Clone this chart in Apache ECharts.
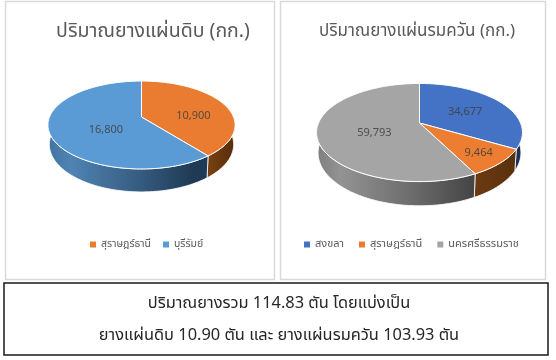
<!DOCTYPE html>
<html><head><meta charset="utf-8">
<style>html,body{margin:0;padding:0;background:#fff}#c{width:556px;height:360px}</style>
<script src="https://cdn.jsdelivr.net/npm/echarts@6/dist/echarts.min.js"></script>
</head><body><div id="c"></div>
<script>
const titleRaw = 'ปริมาณยางแผ่นดิบ (กก.)';
const titleSmoked = 'ปริมาณยางแผ่นรมควัน (กก.)';
const rawNames = ['สุราษฎร์ธานี', 'บุรีรัมย์'];
const rawValues = [10900, 16800];
const smokedNames = ['สงขลา', 'สุราษฎร์ธานี', 'นครศรีธรรมราช'];
const smokedValues = [34677, 9464, 59793];
const summaryLines = ['ปริมาณยางรวม 114.83 ตัน โดยแบ่งเป็น', 'ยางแผ่นดิบ 10.90 ตัน และ ยางแผ่นรมควัน 103.93 ตัน'];

const FONT = '"Noto Sans Thai","Noto Sans","Open Sans",sans-serif';
const rawStyle = {
  cx: 141.5, cy: 117, R: 92, S: 42.5, k: 0.1818, D: 18.8,
  slices: [
    {top:'#E97C30', side:[['0','#7a4213'],['1','#552c0a']], lab:[0.62, 8]},
    {top:'#5B9BD5', side:[['0','#44749f'],['0.15','#4f83b3'],['0.6','#34597c'],['0.9','#1f3a55'],['1','#1f3a55']], lab:[0.4, 8]}
  ]
};
const smokedStyle = {
  cx: 419.5, cy: 123, R: 101, S: 47.2, k: 0.194, D: 19.5,
  slices: [
    {top:'#4472C4', side:[['0','#1e3560'],['1','#182b4e']], lab:[0.55, 2]},
    {top:'#ED7D31', side:[['0','#6d3a12'],['1','#58300c']], lab:[0.76, 2]},
    {top:'#A5A5A5', side:[['0','#7d7d7d'],['0.15','#939393'],['0.6','#6c6c6c'],['1','#434343']], lab:[0.45, 6]}
  ]
};

function proj(st, t, depth, r) {
  const rr = r === undefined ? 1 : r;
  const u = Math.sin(t) * rr, v = Math.cos(t) * rr;
  const w = 1 + st.k * v;
  const shrink = depth ? 0.985 : 1;
  return [st.cx + st.R * shrink * u / w, st.cy - st.S * v / w + (depth ? st.D / w : 0)];
}
function arc(st, a, b, depth) {
  const pts = [], n = Math.max(4, Math.ceil((b - a) / 0.03));
  for (let i = 0; i <= n; i++) pts.push(proj(st, a + (b - a) * i / n, depth));
  return pts;
}
function grad(stops) {
  return new echarts.graphic.LinearGradient(0, 0, 1, 0, stops.map(s => ({offset: +s[0], color: s[1]})));
}
function sliceSeries(names, values, st) {
  const total = values.reduce((a, b) => a + b, 0);
  const TAU = Math.PI * 2;
  let cum = 0;
  const entries = values.map((val, i) => {
    const start = cum; cum += val;
    return {name: names[i], start, val, i};
  });
  const out = [];
  entries.forEach(e => {
    out.push({
      type: 'custom', name: e.name, coordinateSystem: 'none', silent: true,
      itemStyle: {color: st.slices[e.i].top},
      data: [[e.start, e.val]], z: 2,
      renderItem: (p, api) => {
        const a = api.value(0) / total * TAU, b = (api.value(0) + api.value(1)) / total * TAU;
        const children = [];
        const fa = Math.max(a, Math.PI / 2), fb = Math.min(b, Math.PI * 1.5);
        if (fb > fa) {
          const pts = arc(st, fa, fb, false).concat(arc(st, fa, fb, true).reverse());
          children.push({type: 'polygon', shape: {points: pts},
            style: {fill: grad(st.slices[e.i].side), stroke: '#fff', lineWidth: 0.8}});
        }
        return {type: 'group', children};
      }
    });
  });
  entries.forEach(e => {
    out.push({
      type: 'custom', name: e.name, coordinateSystem: 'none', silent: true,
      itemStyle: {color: st.slices[e.i].top},
      data: [[e.start, e.val]], z: 3,
      renderItem: (p, api) => {
        const a = api.value(0) / total * TAU, b = (api.value(0) + api.value(1)) / total * TAU;
        const pts = [[st.cx, st.cy]].concat(arc(st, a, b, false));
        const m = (a + b) / 2, lab = st.slices[e.i].lab;
        const lp = proj(st, m, false, lab[0]);
        return {type: 'group', children: [
          {type: 'polygon', shape: {points: pts}, style: {fill: st.slices[e.i].top, stroke: '#fff', lineWidth: 1}},
          {type: 'text', z2: 10, style: {x: lp[0], y: lp[1] + lab[1], text: api.value(1).toLocaleString('en-US'),
            fill: '#404040', font: '11px ' + FONT, align: 'center', verticalAlign: 'middle', opacity: 0.85}}
        ]};
      }
    });
  });
  return out;
}
const legendBase = {type: 'plain', icon: 'rect', itemWidth: 6, itemHeight: 6, itemGap: 12, selectedMode: false,
  textStyle: {color: '#595959', fontSize: 10.5, fontFamily: FONT}, orient: 'horizontal'};

const chart = echarts.init(document.getElementById('c'), null, {renderer: 'canvas'});
chart.setOption({
  animation: false,
  backgroundColor: '#fff',
  title: [
    {text: titleRaw, left: 148, top: 18, textAlign: 'center', textStyle: {color: '#595959', fontSize: 19.5, fontWeight: 'normal', fontFamily: FONT}},
    {text: titleSmoked, left: 412, top: 19, textAlign: 'center', textStyle: {color: '#595959', fontSize: 17, fontWeight: 'normal', fontFamily: FONT}},
    {text: summaryLines[0], left: 274, top: 292, textAlign: 'center', textStyle: {color: '#262626', fontSize: 16.4, fontWeight: 'normal', fontFamily: FONT}},
    {text: summaryLines[1], left: 274, top: 324, textAlign: 'center', textStyle: {color: '#262626', fontSize: 16.4, fontWeight: 'normal', fontFamily: FONT}}
  ],
  legend: [
    Object.assign({}, legendBase, {data: rawNames, left: 85, top: 234}),
    Object.assign({}, legendBase, {data: smokedNames, left: 299, top: 234, itemGap: 15, textStyle: {color: '#595959', fontSize: 11, fontFamily: FONT}})
  ],
  graphic: [
    {type: 'rect', silent: true, z: 0, shape: {x: 5.5, y: 1.5, width: 269, height: 278}, style: {fill: '#fff', stroke: '#d9d9d9', lineWidth: 1.5}},
    {type: 'rect', silent: true, z: 0, shape: {x: 280.5, y: 1.5, width: 265, height: 278}, style: {fill: '#fff', stroke: '#d9d9d9', lineWidth: 1.5}},
    {type: 'rect', silent: true, z: 0, shape: {x: 4, y: 283, width: 544, height: 72}, style: {fill: '#fff', stroke: '#1a1a1a', lineWidth: 1.5}}
  ],
  series: sliceSeries(rawNames, rawValues, rawStyle).concat(sliceSeries(smokedNames, smokedValues, smokedStyle))
});
</script></body></html>
